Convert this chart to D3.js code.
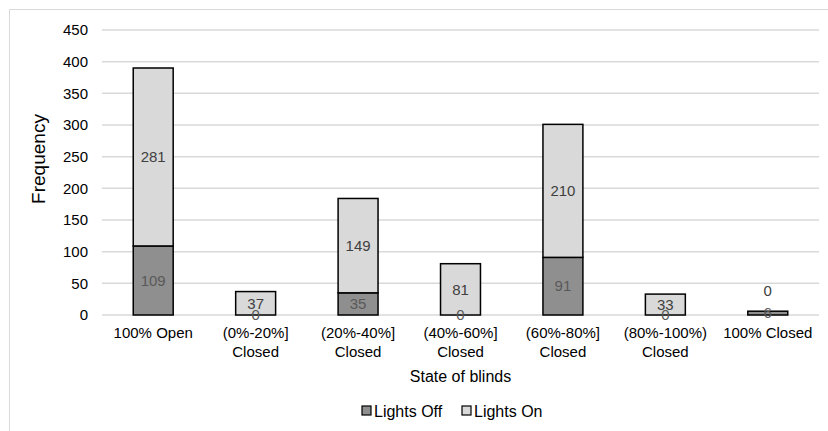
<!DOCTYPE html>
<html>
<head>
<meta charset="utf-8">
<script src="https://cdn.jsdelivr.net/npm/d3@7"></script>
<style>
  body { margin: 0; background: #fff; }
  text { font-family: "Liberation Sans", Arial, sans-serif; }
</style>
</head>
<body>
<svg id="chart"></svg>
<script>
// categories (two lines each)
const categories = [
  ["100% Open"],
  ["(0%-20%]", "Closed"],
  ["(20%-40%]", "Closed"],
  ["(40%-60%]", "Closed"],
  ["(60%-80%]", "Closed"],
  ["(80%-100%)", "Closed"],
  ["100% Closed"]
]
const lightsOff = [109, 0, 35, 0, 91, 0, 6]
const lightsOn = [281, 37, 149, 81, 210, 33, 0]
const yTicks = [0, 50, 100, 150, 200, 250, 300, 350, 400, 450]
const seriesNames = ["Lights Off", "Lights On"]

const width = 828
const height = 431
const pad_left = 102
const pad_right = 9
const plot_top = 30
const plot_bottom = 315

const svg = d3.select('#chart')
  .attr('width', width)
  .attr('height', height)

// outer frame (only top and left edges fall inside the picture)
svg.append('line').attr('x1', 9.5).attr('x2', width).attr('y1', 9.5).attr('y2', 9.5)
  .attr('stroke', '#d9d9d9').attr('stroke-width', 1)
svg.append('line').attr('x1', 9.5).attr('x2', 9.5).attr('y1', 9.5).attr('y2', height)
  .attr('stroke', '#d9d9d9').attr('stroke-width', 1)

const keys = categories.map((c, i) => i)
let xScale = d3.scaleBand().domain(keys).range([pad_left, width - pad_right]).paddingInner(0.61).paddingOuter(0.305)
let yScale = d3.scaleLinear().domain([0, 450]).range([plot_bottom, plot_top])

// gridlines
svg.append('g')
  .selectAll('line')
  .data(yTicks)
  .join('line')
  .attr('x1', pad_left)
  .attr('x2', width - pad_right)
  .attr('y1', d => yScale(d))
  .attr('y2', d => yScale(d))
  .attr('stroke', '#d9d9d9')
  .attr('stroke-width', 1.5)

// y tick labels
svg.append('g')
  .selectAll('text')
  .data(yTicks)
  .join('text')
  .attr('x', 88)
  .attr('y', d => yScale(d))
  .attr('dy', '0.35em')
  .attr('text-anchor', 'end')
  .attr('font-size', 15)
  .attr('fill', '#000')
  .text(d => d)

// stacked data
let table = keys.map(i => ({ i: i, off: lightsOff[i], on: lightsOn[i] }))
let stack = d3.stack().keys(['off', 'on'])(table)
const fills = ['#8f8f8f', '#d9d9d9']

svg.append('g')
  .selectAll('g')
  .data(stack)
  .join('g')
  .attr('fill', (d, k) => fills[k])
  .selectAll('rect')
  .data(d => d.filter(s => s[1] - s[0] > 0))
  .join('rect')
  .attr('x', s => xScale(s.data.i))
  .attr('width', xScale.bandwidth())
  .attr('y', s => yScale(s[1]))
  .attr('height', s => yScale(s[0]) - yScale(s[1]))
  .attr('stroke', '#000')
  .attr('stroke-width', 1.5)

// data labels
const labelColors = ['#595959', '#404040']
stack.forEach((layer, k) => {
  svg.append('g')
    .selectAll('text')
    .data(layer)
    .join('text')
    .attr('x', s => xScale(s.data.i) + xScale.bandwidth() / 2)
    .attr('y', s => {
      let mid = (yScale(s[0]) + yScale(s[1])) / 2
      // Excel pushes a zero top label above the bar when it would collide
      if (k === 1 && s[1] - s[0] === 0 && s[0] > 0) return yScale(s[1]) - 20
      return mid
    })
    .attr('dy', '0.35em')
    .attr('text-anchor', 'middle')
    .attr('font-size', 15)
    .attr('fill', labelColors[k])
    .text(s => s[1] - s[0])
})

// category labels
let catG = svg.append('g')
categories.forEach((lines, i) => {
  lines.forEach((line, j) => {
    catG.append('text')
      .attr('x', xScale(i) + xScale.bandwidth() / 2)
      .attr('y', 333 + j * 19)
      .attr('dy', '0.35em')
      .attr('text-anchor', 'middle')
      .attr('font-size', 15)
      .attr('fill', '#000')
      .text(line)
  })
})

// axis titles
svg.append('text')
  .attr('transform', 'translate(38,159) rotate(-90)')
  .attr('text-anchor', 'middle')
  .attr('dy', '0.35em')
  .attr('font-size', 19)
  .attr('fill', '#000')
  .text('Frequency')

svg.append('text')
  .attr('x', (pad_left + width - pad_right) / 2)
  .attr('y', 376)
  .attr('dy', '0.35em')
  .attr('text-anchor', 'middle')
  .attr('font-size', 16)
  .attr('fill', '#000')
  .text('State of blinds')

// legend
let legend = svg.append('g')
let lx = [362, 462]
seriesNames.forEach((name, k) => {
  legend.append('rect')
    .attr('x', lx[k])
    .attr('y', 406)
    .attr('width', 9)
    .attr('height', 9)
    .attr('fill', fills[k])
    .attr('stroke', '#000')
    .attr('stroke-width', 1.2)
  legend.append('text')
    .attr('x', lx[k] + 12)
    .attr('y', 411)
    .attr('dy', '0.35em')
    .attr('font-size', 16)
    .attr('fill', '#000')
    .text(name)
})
</script>
</body>
</html>
